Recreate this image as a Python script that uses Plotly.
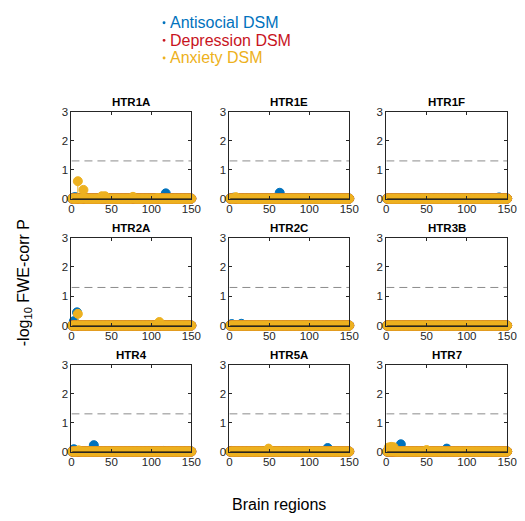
import plotly.graph_objects as go

# ---------------- data ----------------
N_REGIONS = 150
regions = list(range(1, N_REGIONS + 1))
genes = ["HTR1A", "HTR1E", "HTR1F", "HTR2A", "HTR2C", "HTR3B", "HTR4", "HTR5A", "HTR7"]
series_names = ["Antisocial DSM", "Depression DSM", "Anxiety DSM"]
series_colors = ["#0072BD", "#C8141E", "#EDB120"]

# non-zero -log10 FWE-corrected p values (region index -> value); all others are 0
antisocial_nonzero = {
    "HTR1A": {3: 0.04, 5: 0.05, 118: 0.18},
    "HTR1E": {5: 0.03, 63: 0.20},
    "HTR1F": {60: 0.02, 85: 0.02, 140: 0.04},
    "HTR2A": {3: 0.15, 7: 0.45},
    "HTR2C": {3: 0.05, 15: 0.06},
    "HTR3B": {},
    "HTR4": {3: 0.08, 28: 0.22, 115: 0.02},
    "HTR5A": {3: 0.02, 123: 0.12},
    "HTR7": {18: 0.25, 75: 0.10},
}
depression_nonzero = {g: {} for g in genes}
anxiety_nonzero = {
    "HTR1A": {8: 0.60, 15: 0.30, 38: 0.08, 42: 0.08, 77: 0.06, 108: 0.02},
    "HTR1E": {8: 0.05},
    "HTR1F": {},
    "HTR2A": {8: 0.40, 110: 0.12},
    "HTR2C": {},
    "HTR3B": {},
    "HTR4": {9: 0.04},
    "HTR5A": {49: 0.10},
    "HTR7": {3: 0.14, 6: 0.16, 9: 0.15, 50: 0.05},
}
threshold = 1.3  # -log10(0.05)

x_ticks = [0, 50, 100, 150]
y_ticks = [0, 1, 2, 3]

# ---------------- layout geometry (pixels in the 525x521 window) ----------------
OFF = 8  # default page body margin
W, H = 525 - OFF, 521 - OFF


def px(x):
    return (x - OFF) / W


def py(y):
    return 1 - (y - OFF) / H


col_px = [(70, 193), (232, 355), (393, 517)]
row_px = [(108, 197), (237, 327), (367, 456)]

fig = go.Figure()
layout_axes = {}
FONT = "Liberation Sans, Arial, Helvetica, sans-serif"

for i, gene in enumerate(genes):
    r, c = divmod(i, 3)
    k = i + 1
    xa = "x" if k == 1 else f"x{k}"
    ya = "y" if k == 1 else f"y{k}"
    xname = "xaxis" if k == 1 else f"xaxis{k}"
    yname = "yaxis" if k == 1 else f"yaxis{k}"
    x0, x1 = col_px[c]
    y0, y1 = row_px[r]

    for s_name, s_color, s_data in zip(series_names, series_colors,
                                       [antisocial_nonzero, depression_nonzero, anxiety_nonzero]):
        vals = [s_data[gene].get(reg, 0.0) for reg in regions]
        # stems
        sx, sy = [], []
        for reg, v in zip(regions, vals):
            if v > 0:
                sx += [reg, reg, None]
                sy += [0, v, None]
        if sx:
            fig.add_trace(go.Scatter(x=sx, y=sy, mode="lines", xaxis=xa, yaxis=ya,
                                     line=dict(color=s_color, width=1), showlegend=False,
                                     hoverinfo="skip", cliponaxis=False))
        fig.add_trace(go.Scatter(x=regions, y=vals, mode="markers", xaxis=xa, yaxis=ya,
                                 marker=dict(color=s_color, size=9, line=dict(color=s_color, width=1)),
                                 name=s_name, showlegend=False, cliponaxis=False))
    # baseline
    fig.add_trace(go.Scatter(x=[regions[0], regions[-1]], y=[0, 0], mode="lines", xaxis=xa, yaxis=ya,
                             line=dict(color="black", width=1.2), showlegend=False,
                             hoverinfo="skip", cliponaxis=False))
    # threshold
    fig.add_trace(go.Scatter(x=[0, N_REGIONS], y=[threshold, threshold], mode="lines",
                             xaxis=xa, yaxis=ya,
                             line=dict(color="#8c8c8c", width=1, dash="8px,5px"),
                             showlegend=False, hoverinfo="skip"))

    layout_axes[xname] = dict(domain=[px(x0), px(x1)], range=[0, 150], tickvals=x_ticks,
                              anchor=ya, showgrid=False, zeroline=False, showline=True,
                              linecolor="#262626", linewidth=1, mirror="ticks", ticks="inside",
                              ticklen=3, tickcolor="#262626",
                              tickfont=dict(family=FONT, size=11.5, color="#262626"))
    layout_axes[yname] = dict(domain=[py(y1), py(y0)], range=[0, 3], tickvals=y_ticks,
                              anchor=xa, showgrid=False, zeroline=False, showline=True,
                              linecolor="#262626", linewidth=1, mirror="ticks", ticks="inside",
                              ticklen=3, tickcolor="#262626",
                              tickfont=dict(family=FONT, size=11.5, color="#262626"))

annotations = []
for i, gene in enumerate(genes):
    r, c = divmod(i, 3)
    x0, x1 = col_px[c]
    y0, y1 = row_px[r]
    annotations.append(dict(text=f"<b>{gene}</b>", x=px((x0 + x1) / 2), y=py(y0 - 2),
                            xref="paper", yref="paper", xanchor="center", yanchor="bottom",
                            showarrow=False, font=dict(family=FONT, size=11.5, color="black")))

# legend
shapes = []
leg_y = [17, 35, 53]
for name, color, ly in zip(series_names, series_colors, leg_y):
    annotations.append(dict(text=name, x=px(169), y=py(ly), xref="paper", yref="paper",
                            xanchor="left", yanchor="middle", showarrow=False,
                            font=dict(family=FONT, size=16, color=color)))
    shapes.append(dict(type="circle", xref="paper", yref="paper",
                       x0=px(163.5), x1=px(166.5), y0=py(ly - 1.5), y1=py(ly + 1.5),
                       fillcolor=color, line=dict(width=0)))

annotations.append(dict(text="Brain regions", x=px(283), y=py(510), xref="paper", yref="paper",
                        xanchor="center", yanchor="middle", showarrow=False,
                        font=dict(family=FONT, size=16, color="black")))
annotations.append(dict(text="-log<sub>10</sub> FWE-corr P", x=px(22), y=py(283),
                        xref="paper", yref="paper", xanchor="center", yanchor="middle",
                        showarrow=False, textangle=-90,
                        font=dict(family=FONT, size=16, color="black")))

fig.update_layout(width=W, height=H, margin=dict(l=0, r=0, t=0, b=0),
                  paper_bgcolor="white", plot_bgcolor="white",
                  annotations=annotations, shapes=shapes, showlegend=False, **layout_axes)

fig.write_html("out.html")
